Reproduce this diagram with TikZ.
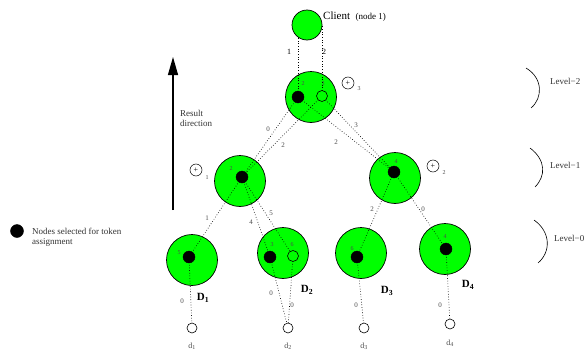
\documentclass[tikz,border=0pt]{standalone}
\usepackage{fontspec}
\setmainfont{Liberation Serif}
\usetikzlibrary{positioning,arrows.meta}

\tikzset{
  site/.style={circle, draw, fill=green, line width=0.7pt, minimum size=51pt, inner sep=0pt},
  link/.style={dotted, line width=0.65pt},
  wt/.style={inner sep=0pt, font=\fontsize{7}{8}\selectfont, text=black!70},
  idx/.style={inner sep=0pt, font=\fontsize{6}{7}\selectfont, text=black!70},
  plus/.style={circle, draw, line width=0.5pt, minimum size=12pt, inner sep=0pt, font=\fontsize{8}{8}\selectfont},
  lvl/.style={anchor=west, inner sep=0pt, font=\fontsize{9}{10}\selectfont, text=black!80},
  dlab/.style={inner sep=0pt, font=\fontsize{11}{12}\selectfont\bfseries},
}

\begin{document}
\begin{tikzpicture}[x=1pt, y=-1pt]
\useasboundingbox (0,0) rectangle (587,351);

% sites
\node[site] (top) at (311,97) {};
\node[site] (la) at (240,181) {};
\node[site] (lb) at (395,178) {};
\node[site] (D1) at (192,260) {};
\node[site] (D2) at (283,253) {};
\node[site] (D3) at (361,253) {};
\node[site] (D4) at (445,249) {};

% points inside the sites
\coordinate (cl) at (307,25);
\coordinate (topb) at (298,97);
\coordinate (topw) at (322,96);
\coordinate (lab) at (242,177);
\coordinate (lbb) at (394,172);
\coordinate (D1b) at (189,257);
\coordinate (D2b) at (270,257);
\coordinate (D2w) at (293,256);
\coordinate (D3b) at (357,257);
\coordinate (D4b) at (446,249);
\coordinate (d1) at (192,328);
\coordinate (d2) at (288,328);
\coordinate (d3) at (364,328);
\coordinate (d4) at (450,324);

% links
\draw[link] (topb) -- (topb |- cl);
\draw[link] (topw) -- (topw |- cl);
\draw[link] (topb) -- (lab);
\draw[link] (topw) -- (lab);
\draw[link] (topb) -- (lbb);
\draw[link] (topw) -- (lbb);
\draw[link] (lab) -- (D1b);
\draw[link] (lab) -- (D2b);
\draw[link] (lab) -- (D2w);
\draw[link] (lbb) -- (D3b);
\draw[link] (lbb) -- (D4b);
\draw[link] (D1b) -- (d1);
\draw[link] (D2b) -- (d2);
\draw[link] (D2w) -- (d2);
\draw[link] (D3b) -- (d3);
\draw[link] (D4b) -- (d4);

\node[site, minimum size=30pt] (client) at (cl) {};
\node[anchor=west, inner sep=0pt] (cname) at (323,17) {\fontsize{11}{12}\selectfont Client\ \ \fontsize{9}{10}\selectfont(node 1)};

\filldraw[black] (topb) circle (6);
\filldraw[fill=green, draw=black, line width=0.6pt] (topw) circle (5.5);
\filldraw[black] (lab) circle (6);
\filldraw[black] (lbb) circle (6);
\filldraw[black] (D1b) circle (6);
\filldraw[black] (D2b) circle (6);
\filldraw[fill=green, draw=black, line width=0.6pt] (D2w) circle (5.5);
\filldraw[black] (D3b) circle (6);
\filldraw[black] (D4b) circle (6);
\filldraw[fill=white, draw=black, line width=0.6pt] (d1) circle (5);
\filldraw[fill=white, draw=black, line width=0.6pt] (d2) circle (5);
\filldraw[fill=white, draw=black, line width=0.6pt] (d3) circle (5);
\filldraw[fill=white, draw=black, line width=0.6pt] (d4) circle (5);

% weights on links
\node[wt, text=black, font=\fontsize{8}{9}\selectfont] (w1) at (289,52) {1};
\node[wt, text=black, font=\fontsize{8}{9}\selectfont] (w2) at (324,52) {2};
\node[wt] (w3) at (268,129) {0};
\node[wt] (w4) at (283,145) {2};
\node[wt] (w5) at (336,142) {2};
\node[wt] (w6) at (356,125) {3};
\node[wt] (w7) at (207,218) {1};
\node[wt] (w8) at (251,222) {4};
\node[wt] (w9) at (271,213) {5};
\node[wt] (w10) at (372,209) {2};
\node[wt] (w11) at (423,209) {0};
\node[wt] (w12) at (182,301) {0};
\node[wt] (w13) at (271,293) {0};
\node[wt] (w14) at (292,305) {0};
\node[wt] (w15) at (356,305) {0};
\node[wt] (w16) at (440,305) {0};

% numbers inside the sites
\node[idx] (i1) at (303,84) {2};
\node[idx] (i2) at (323,84) {3};
\node[idx] (i3) at (231,169) {2};
\node[idx] (i4) at (396,162) {4};
\node[idx] (i5) at (179,253) {5};
\node[idx] (i6) at (272,245) {3};
\node[idx] (i7) at (292,245) {6};
\node[idx] (i8) at (352,249) {6};
\node[idx] (i9) at (445,237) {4};

% combiners
\node[plus] (p3) at (348,83) {+};
\node[idx] (s3) at (359,89) {3};
\node[plus] (p1) at (196,170) {+};
\node[idx] (s1) at (207,178) {1};
\node[plus] (p2) at (433,166) {+};
\node[idx] (s2) at (444,173) {2};

% data sites
\node[dlab] (n1) at (203,298) {D\textsubscript{1}};
\node[dlab] (n2) at (307,290) {D\textsubscript{2}};
\node[dlab] (n3) at (387,291) {D\textsubscript{3}};
\node[dlab] (n4) at (468,285) {D\textsubscript{4}};
\node[wt, font=\fontsize{8}{9}\selectfont] (m1) at (192,346) {d\textsubscript{1}};
\node[wt, font=\fontsize{8}{9}\selectfont] (m2) at (288,346) {d\textsubscript{2}};
\node[wt, font=\fontsize{8}{9}\selectfont] (m3) at (364,346) {d\textsubscript{3}};
\node[wt, font=\fontsize{8}{9}\selectfont] (m4) at (450,343) {d\textsubscript{4}};

% result direction
\coordinate (ra) at (173,210);
\coordinate (rb) at (173,57);
\draw[-{Triangle[length=18pt,width=10pt]}, line width=1.3pt] (ra) -- (rb);
\node[lvl, align=left] (res) at (180,118) {Result\\direction};

% legend
\filldraw[black] (17,231) circle (6.5);
\node[lvl, align=left] (leg) at (32,237) {Nodes selected for token\\assignment};

% levels
\draw[line width=0.6pt] (526,68) .. controls (543,78) and (543,98) .. (531,108);
\draw[line width=0.6pt] (530,148) .. controls (546,160) and (546,176) .. (535,187);
\draw[line width=0.6pt] (534,220) .. controls (551,232) and (551,252) .. (538,263);
\node[lvl] (lv2) at (550,81) {Level−2};
\node[lvl] (lv1) at (550,165) {Level−1};
\node[lvl] (lv0) at (554,238) {Level−0};

\end{tikzpicture}
\end{document}
